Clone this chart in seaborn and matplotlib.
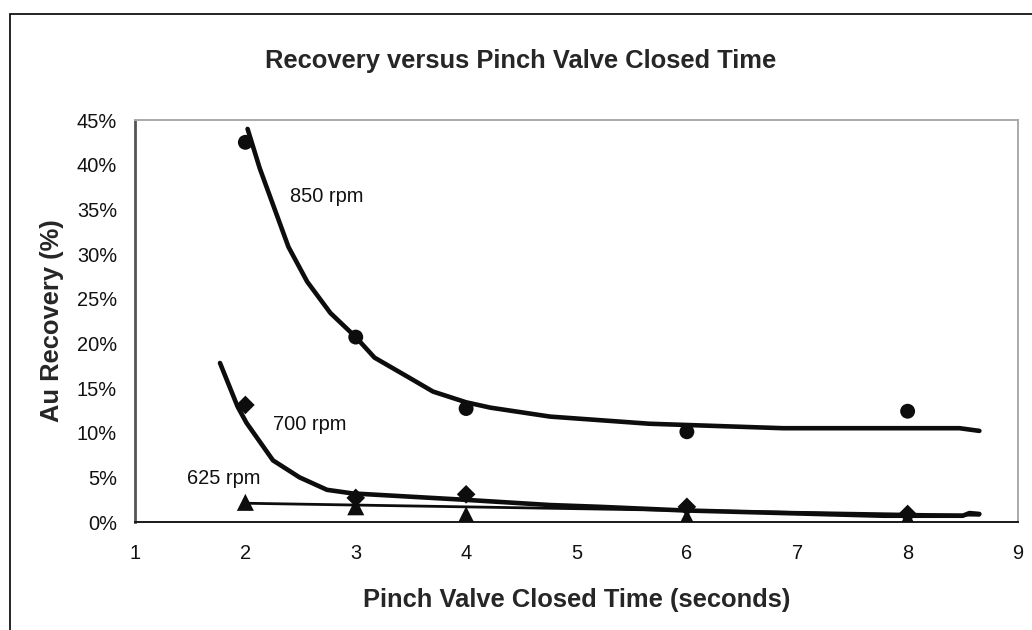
import matplotlib
matplotlib.use("Agg")
import matplotlib.pyplot as plt
import matplotlib.patches as mpatches
from matplotlib.ticker import PercentFormatter, MultipleLocator
import seaborn as sns
import pandas as pd

# ---- data ----
time_s = [2, 3, 4, 6, 8]
rec_850 = [42.5, 20.7, 12.7, 10.1, 12.4]
rec_700 = [13.1, 2.7, 3.1, 1.7, 0.9]
rec_625 = [2.2, 1.7, 0.8, 0.5, 0.4]

# hand-drawn trend curves
trend_850_x = [2.02, 2.13, 2.39, 2.56, 2.77, 3.0, 3.17, 3.52, 3.70, 4.0, 4.22, 4.76, 5.21, 5.66, 6.87, 8.47, 8.65]
trend_850_y = [44.0, 39.6, 30.8, 26.9, 23.4, 20.7, 18.4, 15.9, 14.6, 13.4, 12.8, 11.8, 11.4, 11.0, 10.5, 10.5, 10.2]
trend_700_x = [1.77, 1.93, 2.01, 2.25, 2.49, 2.74, 2.97, 3.40, 3.97, 4.76, 5.21, 5.96, 6.87, 7.78, 8.50, 8.56, 8.65]
trend_700_y = [17.8, 12.9, 11.1, 6.9, 5.0, 3.6, 3.2, 2.9, 2.5, 1.9, 1.7, 1.3, 1.0, 0.7, 0.7, 1.0, 0.9]
trend_625_x = [2.0, 8.65]
trend_625_y = [2.1, 0.75]

labels = ["850 rpm", "700 rpm", "625 rpm"]
label_x = [2.40, 2.25, 1.47]
label_y = [36.4, 10.9, 4.9]

title = "Recovery versus Pinch Valve Closed Time"
xlabel = "Pinch Valve Closed Time (seconds)"
ylabel = "Au Recovery (%)"

# ---- style ----
sns.set_style("white")
plt.rcParams["font.family"] = ["Liberation Sans", "DejaVu Sans"]

fig = plt.figure(figsize=(10.32, 6.3), dpi=100)
ax = fig.add_axes([135 / 1032, 1 - 522 / 630, (1018 - 135) / 1032, (522 - 120) / 630])

# figure border (left/top visible)
fig.patches.append(mpatches.Rectangle((10 / 1032, -0.1), 1.2, 1.1 - 14 / 630,
                                      transform=fig.transFigure, fill=False,
                                      edgecolor="black", linewidth=1.2))

pts = pd.DataFrame({
    "time": time_s * 3,
    "rec": rec_850 + rec_700 + rec_625,
    "rpm": ["850"] * 5 + ["700"] * 5 + ["625"] * 5,
})

# trend curves
sns.lineplot(x=trend_850_x, y=trend_850_y, ax=ax, color="#0d0d0d", linewidth=3.3,
             estimator=None, sort=False)
sns.lineplot(x=trend_700_x, y=trend_700_y, ax=ax, color="#0d0d0d", linewidth=3.3,
             estimator=None, sort=False)
sns.lineplot(x=trend_625_x, y=trend_625_y, ax=ax, color="#0d0d0d", linewidth=2.0,
             estimator=None, sort=False)

# data markers
sns.scatterplot(data=pts, x="time", y="rec", style="rpm",
                markers={"850": "o", "700": "D", "625": "^"},
                size="rpm", sizes={"850": 115, "700": 90, "625": 150},
                color="#0d0d0d", edgecolor="none", legend=False, ax=ax, zorder=5)

for t, lx, ly in zip(labels, label_x, label_y):
    ax.text(lx, ly, t, fontsize=14.4, ha="left", va="center", color="#111111")

ax.set_xlim(1, 9)
ax.set_ylim(0, 45)
ax.xaxis.set_major_locator(MultipleLocator(1))
ax.yaxis.set_major_locator(MultipleLocator(5))
ax.yaxis.set_major_formatter(PercentFormatter(decimals=0))

ax.tick_params(axis="both", direction="out", length=5, width=1.2, colors="#222222",
               labelsize=14.4, labelcolor="#111111")
ax.tick_params(axis="y", pad=8, color="#555555")
ax.tick_params(axis="x", pad=11)

for side in ["top", "right"]:
    ax.spines[side].set_color("#aaaaaa")
    ax.spines[side].set_linewidth(1.4)
ax.spines["left"].set_color("#555555")
ax.spines["left"].set_linewidth(2.0)
ax.spines["bottom"].set_color("#1a1a1a")
ax.spines["bottom"].set_linewidth(1.4)

ax.set_xlabel(xlabel, fontsize=18.4, fontweight="bold", labelpad=18)
ax.set_ylabel(ylabel, fontsize=18.4, fontweight="bold", labelpad=9)

fig.text(521 / 1032, 1 - 61 / 630, title, ha="center", va="center",
         fontsize=18.4, fontweight="bold")

fig.savefig("out.png", dpi=100)
